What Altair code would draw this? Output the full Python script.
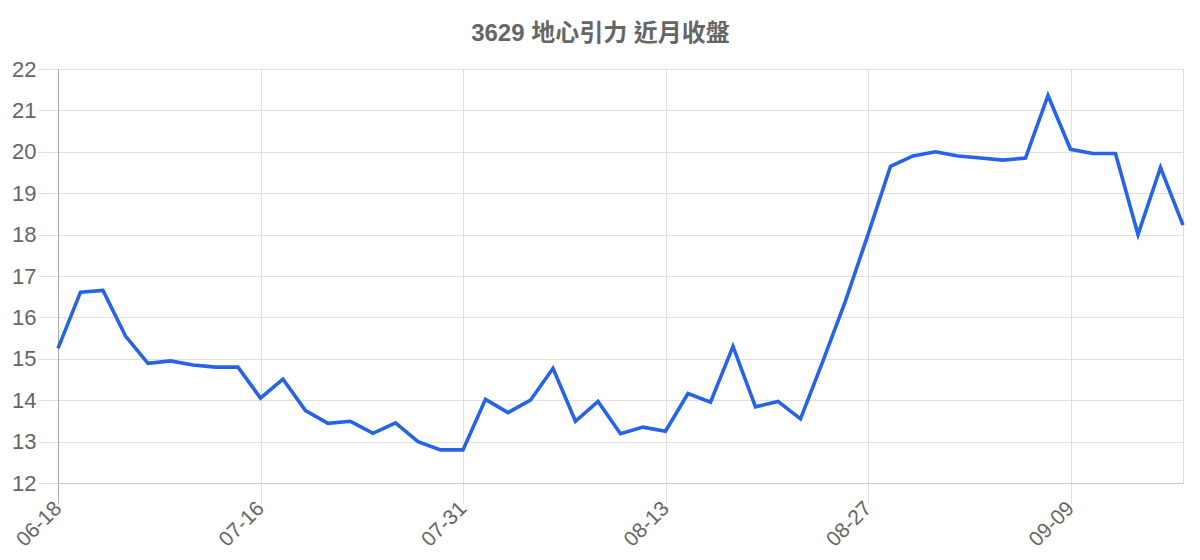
import altair as alt
import pandas as pd

title_text = "3629 地心引力 近月收盤"
tick_labels = ["06-18", "07-16", "07-31", "08-13", "08-27", "09-09"]
tick_index = [0, 9, 18, 27, 36, 45]
closes = [15.25, 16.61, 16.65, 15.55, 14.89, 14.95, 14.85, 14.8, 14.8, 14.05,
          14.51, 13.75, 13.44, 13.49, 13.2, 13.45, 13.0, 12.8, 12.8, 14.02,
          13.7, 14.0, 14.77, 13.49, 13.97, 13.19, 13.35, 13.25, 14.16, 13.95,
          15.3, 13.84, 13.97, 13.55, 14.95, 16.4, 18.0, 19.65, 19.9, 20.0,
          19.9, 19.85, 19.8, 19.85, 21.36, 20.06, 19.96, 19.96, 18.0, 19.62,
          18.23]

df = pd.DataFrame({"i": list(range(len(closes))), "close": closes})

label_map = "{" + ",".join(f"'{v}':'{t}'" for v, t in zip(tick_index, tick_labels)) + "}"

FONT = "Liberation Sans, Noto Sans CJK TC, sans-serif"

chart = alt.Chart(df).mark_line(color="#2563eb", strokeWidth=3.6, strokeJoin="miter").encode(
    x=alt.X("i:Q",
            scale=alt.Scale(domain=[0, len(closes) - 1], nice=False, zero=False),
            axis=alt.Axis(values=tick_index, title=None,
                          labelExpr=f"{label_map}[datum.value + '']",
                          labelAngle=-45, labelAlign="right", labelBaseline="middle",
                          labelFontSize=21, labelColor="#666666", labelFont=FONT,
                          labelPadding=2, tickSize=20,
                          tickColor={"condition": {"test": "datum.value === 0", "value": "#aaaaaa"}, "value": "#e0e0e0"},
                          domainColor="#cccccc", gridColor="#e0e0e0", grid=True)),
    y=alt.Y("close:Q",
            scale=alt.Scale(domain=[12, 22], nice=False, zero=False),
            axis=alt.Axis(values=list(range(12, 23)), title=None,
                          labelFontSize=22, labelColor="#666666", labelFont=FONT,
                          labelPadding=2, tickSize=20, tickColor="#e0e0e0",
                          domainColor="#aaaaaa", gridColor="#e0e0e0", grid=True)),
).properties(
    width=1125,
    height=414,
    padding={"left": 50, "top": 61, "right": 9, "bottom": 77},
    autosize=alt.AutoSizeParams(type="none"),
    title=alt.TitleParams(text=title_text, anchor="middle", dx=-20, dy=32, offset=25,
                          baseline="alphabetic", fontSize=24, fontWeight="bold",
                          color="#666666", font=FONT),
).configure_view(stroke=None).configure(background="white")

chart.save("out.html", embed_options={"renderer": "svg", "actions": False})
